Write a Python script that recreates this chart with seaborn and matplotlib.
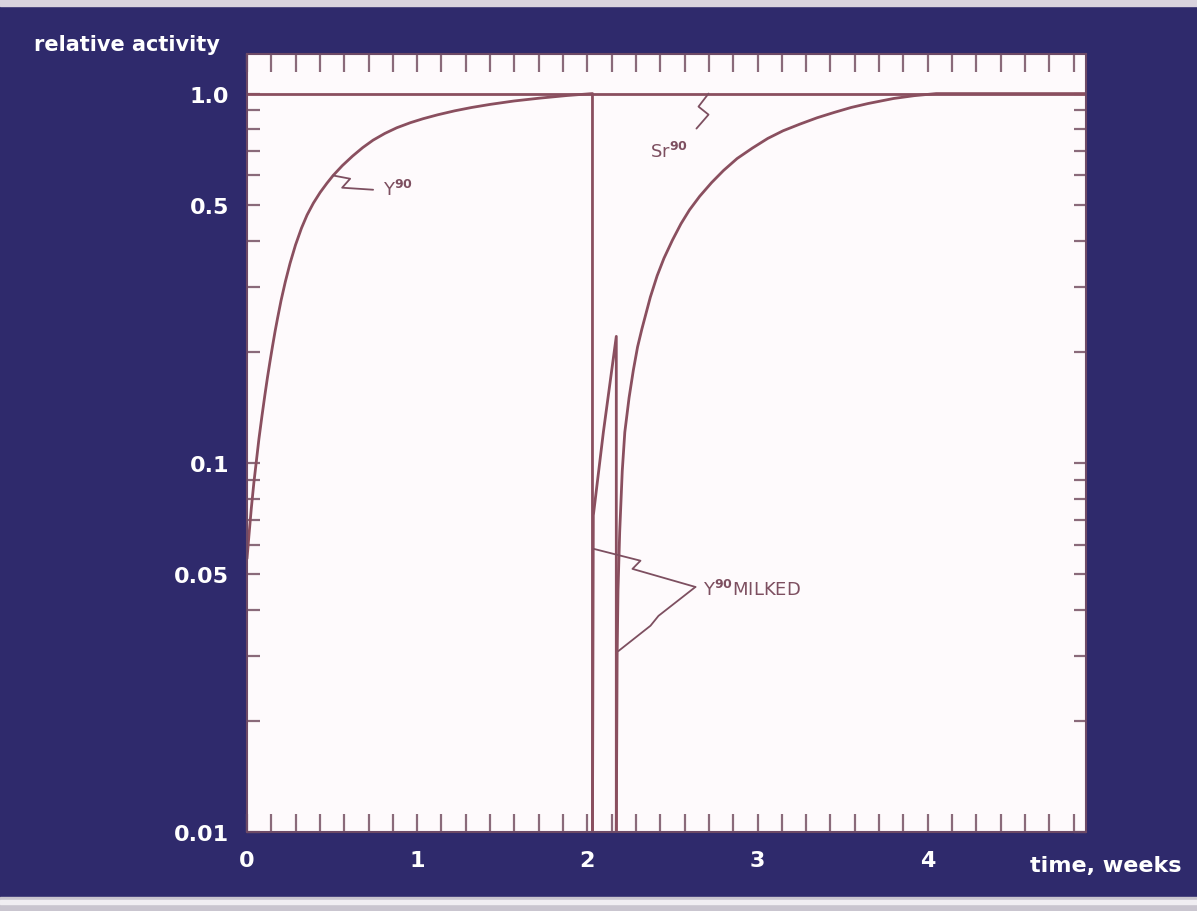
import matplotlib
matplotlib.use("Agg")
import matplotlib.pyplot as plt
import seaborn as sns
import pandas as pd
from matplotlib.ticker import FixedLocator, FixedFormatter, MultipleLocator, LogLocator, NullFormatter
from matplotlib.patches import Rectangle

# ---------------- data ----------------
# Sr90 parent activity (constant)
sr90_t = [0.0, 4.93]
sr90_v = [1.0, 1.0]

# Y90 first ingrowth, then milked at ~2.03 weeks
y90_first_t = [0.0, 0.012, 0.025, 0.04, 0.055, 0.07, 0.088, 0.105, 0.12, 0.135, 0.15,
               0.165, 0.18, 0.2, 0.225, 0.253, 0.285, 0.32, 0.353, 0.39, 0.43, 0.47,
               0.506, 0.56, 0.62, 0.68, 0.741, 0.81, 0.88, 0.96, 1.035, 1.12, 1.22,
               1.32, 1.43, 1.57, 1.72, 1.88, 2.03, 2.03]
y90_first_v = [0.055, 0.064, 0.075, 0.088, 0.101, 0.116, 0.134, 0.1525, 0.170, 0.188, 0.207,
               0.227, 0.247, 0.275, 0.309, 0.347, 0.389, 0.432, 0.469, 0.505, 0.540, 0.572,
               0.600, 0.638, 0.677, 0.714, 0.748, 0.780, 0.808, 0.834, 0.855, 0.876, 0.898,
               0.917, 0.935, 0.955, 0.972, 0.988, 1.0, 0.01]

# short regrowth, milked again at ~2.17 weeks
y90_spike_t = [2.03, 2.035, 2.094, 2.17, 2.17]
y90_spike_v = [0.01, 0.072, 0.121, 0.22, 0.01]

# Y90 regrowth after second milking
y90_regrowth_t = [2.17, 2.175, 2.18, 2.19, 2.205, 2.22, 2.245, 2.27, 2.295, 2.32, 2.37,
                  2.41, 2.45, 2.50, 2.55, 2.60, 2.66, 2.73, 2.80, 2.88, 2.97, 3.06,
                  3.15, 3.25, 3.35, 3.45, 3.55, 3.65, 3.8, 3.92, 4.05, 4.93]
y90_regrowth_v = [0.01, 0.03, 0.045, 0.065, 0.095, 0.121, 0.150, 0.178, 0.206, 0.230, 0.281,
                  0.321, 0.358, 0.401, 0.444, 0.484, 0.527, 0.574, 0.619, 0.667, 0.712, 0.756,
                  0.793, 0.827, 0.86, 0.889, 0.917, 0.94, 0.97, 0.987, 1.0, 1.0]

x_major = [0, 1, 2, 3, 4]
x_major_labels = ["0", "1", "2", "3", "4"]
y_major = [0.01, 0.05, 0.1, 0.5, 1.0]
y_major_labels = ["0.01", "0.05", "0.1", "0.5", "1.0"]

# ---------------- style ----------------
NAVY = "#2f2a6c"
PAPER = "#fefafc"
INK = "#8a4f5f"
TICK = "#8a6a7a"
HAND = "#7d4f60"

sns.set_style("white")
plt.rcParams["font.family"] = ["DejaVu Sans"]
plt.rcParams["font.weight"] = "bold"

fig = plt.figure(figsize=(11.97, 9.12), dpi=100, facecolor=NAVY)
# scan edges
fig.patches.append(Rectangle((0, 1 - 7 / 912), 1, 7 / 912, transform=fig.transFigure,
                             color="#d9d3de", zorder=0))
fig.patches.append(Rectangle((0, 0), 1, 14 / 912, transform=fig.transFigure,
                             color="#c9c5cf", zorder=0))
fig.patches.append(Rectangle((0, 7 / 912), 1, 4 / 912, transform=fig.transFigure,
                             color="#f0eef2", zorder=0))

ax = fig.add_axes([247 / 1197, 1 - 833 / 912, (1086 - 247) / 1197, (833 - 55) / 912])
ax.set_facecolor(PAPER)

series = [
    (sr90_t, sr90_v),
    (y90_first_t, y90_first_v),
    (y90_spike_t, y90_spike_v),
    (y90_regrowth_t, y90_regrowth_v),
]
for t, v in series:
    df = pd.DataFrame({"t": t, "v": v})
    sns.lineplot(data=df, x="t", y="v", ax=ax, sort=False, estimator=None,
                 color=INK, linewidth=2.0)

ax.set_yscale("log")
ax.set_xlim(0, 4.93)
ax.set_ylim(0.01, 1.28)
ax.set_xlabel("")
ax.set_ylabel("")

ax.xaxis.set_major_locator(FixedLocator(x_major))
ax.xaxis.set_major_formatter(FixedFormatter(x_major_labels))
ax.xaxis.set_minor_locator(MultipleLocator(1 / 7))
ax.yaxis.set_major_locator(FixedLocator(y_major))
ax.yaxis.set_major_formatter(FixedFormatter(y_major_labels))
ax.yaxis.set_minor_locator(LogLocator(base=10, subs=[2, 3, 4, 6, 7, 8, 9]))
ax.yaxis.set_minor_formatter(NullFormatter())

ax.tick_params(axis="x", which="both", direction="in", top=True, bottom=True,
               length=13, width=1.6, color=TICK, labelcolor="white", labelsize=16, pad=13)
ax.tick_params(axis="y", which="both", direction="in", left=True, right=True,
               length=9, width=1.6, color=TICK, labelcolor="white", labelsize=16, pad=13)
for lbl in ax.get_xticklabels() + ax.get_yticklabels():
    lbl.set_fontweight("bold")

for side, sp in ax.spines.items():
    sp.set_color("#6e4a66")
    sp.set_linewidth(1.5)

# ---------------- annotations ----------------
ann_y90_path_t = [0.506, 0.606, 0.559, 0.741]
ann_y90_path_v = [0.600, 0.588, 0.556, 0.549]
ax.plot(ann_y90_path_t, ann_y90_path_v, color=HAND, lw=1.3)
ax.text(0.80, 0.553, r"Y$^{90}$", color=HAND, fontsize=13, fontweight="normal",
        ha="left", va="center")

ann_sr_path_t = [2.712, 2.653, 2.712, 2.641]
ann_sr_path_v = [1.0, 0.922, 0.877, 0.804]
ax.plot(ann_sr_path_t, ann_sr_path_v, color=HAND, lw=1.3)
ax.text(2.37, 0.70, r"Sr$^{90}$", color=HAND, fontsize=13, fontweight="normal",
        ha="left", va="center")

ann_milk_up_t = [2.035, 2.312, 2.265, 2.635]
ann_milk_up_v = [0.0585, 0.0543, 0.0516, 0.0461]
ann_milk_dn_t = [2.635, 2.418, 2.371, 2.182]
ann_milk_dn_v = [0.0461, 0.0385, 0.0362, 0.0309]
ax.plot(ann_milk_up_t, ann_milk_up_v, color=HAND, lw=1.3)
ax.plot(ann_milk_dn_t, ann_milk_dn_v, color=HAND, lw=1.3)
ax.text(2.68, 0.0455, r"Y$^{90}$MILKED", color=HAND, fontsize=13, fontweight="normal",
        ha="left", va="center")

# axis titles
fig.text(34 / 1197, 1 - 45 / 912, "relative activity", color="white", fontsize=15,
         fontweight="bold", ha="left", va="center")
fig.text(1182 / 1197, 1 - 866 / 912, "time, weeks", color="white", fontsize=16,
         fontweight="bold", ha="right", va="center")

fig.savefig("out.png", dpi=100, facecolor=NAVY)
